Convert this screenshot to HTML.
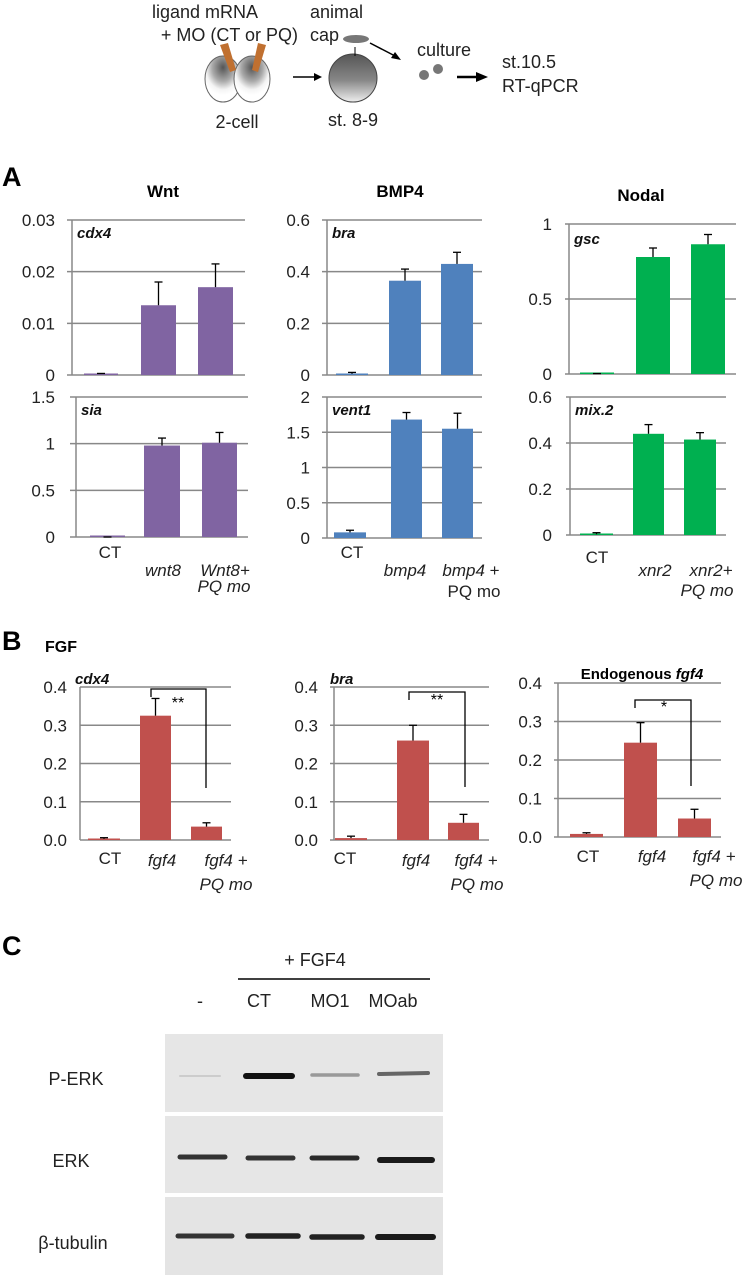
<!DOCTYPE html>
<html><head><meta charset="utf-8"><style>
html,body{margin:0;padding:0;background:#fff;}
svg{display:block;font-family:"Liberation Sans",Arial,sans-serif;}
</style></head><body>
<svg id="s" width="748" height="1280" viewBox="0 0 748 1280" xmlns="http://www.w3.org/2000/svg">
<defs>
<radialGradient id="eg" cx="50%" cy="25%" r="60%"><stop offset="0" stop-color="#555"/><stop offset="0.5" stop-color="#aaa"/><stop offset="0.8" stop-color="#f4f4f4"/><stop offset="1" stop-color="#fff"/></radialGradient>
<linearGradient id="bg" x1="0" y1="0" x2="0" y2="1"><stop offset="0" stop-color="#555"/><stop offset="0.55" stop-color="#888"/><stop offset="1" stop-color="#eee"/></linearGradient>
</defs>
<g font-size="18" fill="#222">
<text x="258" y="18" text-anchor="end">ligand mRNA</text>
<text x="298" y="41" text-anchor="end">+ MO (CT or PQ)</text>
<text x="310" y="18">animal</text>
<text x="310" y="41">cap</text>
<text x="417" y="56">culture</text>
<text x="502" y="68">st.10.5</text>
<text x="502" y="92">RT-qPCR</text>
<text x="237" y="128" text-anchor="middle">2-cell</text>
<text x="353" y="126" text-anchor="middle">st. 8-9</text>
</g>
<ellipse cx="223" cy="79" rx="18" ry="23" fill="url(#eg)" stroke="#666"/>
<ellipse cx="252" cy="79" rx="18" ry="23" fill="url(#eg)" stroke="#666"/>
<polygon points="220,45 228,43 236,70 230,72" fill="#c07030"/>
<polygon points="258,43 266,45 258,72 252,70" fill="#c07030"/>
<circle cx="353" cy="78" r="24" fill="url(#bg)" stroke="#444"/>
<ellipse cx="356" cy="39" rx="13" ry="4" fill="#777"/>
<line x1="355" y1="56" x2="355" y2="47" stroke="#000"/>
<line x1="293" y1="77" x2="318" y2="77" stroke="#000" stroke-width="1.5"/><polygon points="322,77 314,73 314,81"/>
<line x1="370" y1="43" x2="397" y2="57" stroke="#000" stroke-width="1.5"/><polygon points="401,60 391,58 395,52"/>
<circle cx="424" cy="75" r="5" fill="#777"/><circle cx="438" cy="69" r="5" fill="#777"/>
<line x1="457" y1="77" x2="480" y2="77" stroke="#000" stroke-width="2.5"/><polygon points="488,77 476,72 476,82"/>
<g font-weight="bold" font-size="27"><text x="2" y="186">A</text><text x="2" y="650">B</text><text x="2" y="955">C</text></g>
<g font-weight="bold" font-size="17" text-anchor="middle"><text x="163" y="197">Wnt</text><text x="400" y="197">BMP4</text><text x="641" y="201">Nodal</text></g>
<text x="45" y="652" font-weight="bold" font-size="16">FGF</text>
<g id="charts"></g>
<g font-size="17" fill="#222" text-anchor="middle">
<text x="110" y="558">CT</text><text x="163" y="576" font-style="italic">wnt8</text><text x="225" y="576" font-style="italic">Wnt8+</text><text x="224" y="592" font-style="italic">PQ mo</text>
<text x="352" y="558">CT</text><text x="405" y="576" font-style="italic">bmp4</text><text x="471" y="576"><tspan font-style="italic">bmp4</tspan> +</text><text x="474" y="597">PQ mo</text>
<text x="597" y="563">CT</text><text x="655" y="576" font-style="italic">xnr2</text><text x="711" y="576" font-style="italic">xnr2+</text><text x="707" y="596" font-style="italic">PQ mo</text>
<text x="110" y="864">CT</text><text x="162" y="866" font-style="italic">fgf4</text><text x="226" y="866" font-style="italic">fgf4 +</text><text x="226" y="890" font-style="italic">PQ mo</text>
<text x="345" y="864">CT</text><text x="416" y="866" font-style="italic">fgf4</text><text x="476" y="866" font-style="italic">fgf4 +</text><text x="477" y="890" font-style="italic">PQ mo</text>
<text x="588" y="862">CT</text><text x="652" y="862" font-style="italic">fgf4</text><text x="714" y="862" font-style="italic">fgf4 +</text><text x="716" y="886" font-style="italic">PQ mo</text>
</g>
<text x="642" y="679" text-anchor="middle" font-weight="bold" font-size="15">Endogenous <tspan font-style="italic">fgf4</tspan></text>
<g stroke="#000" stroke-width="1.3" fill="none">
<polyline points="151,697 151,689 206,689 206,788"/>
<polyline points="409,700 409,692 465,692 465,787"/>
<polyline points="635,708 635,700 691,700 691,786"/>
</g>
<g font-size="16" text-anchor="middle"><text x="178" y="708">**</text><text x="437" y="705">**</text><text x="664" y="712">*</text></g>
<g font-size="18" fill="#222" text-anchor="middle">
<text x="315" y="966">+ FGF4</text>
<text x="200" y="1007">-</text><text x="259" y="1007">CT</text><text x="330" y="1007">MO1</text><text x="393" y="1007">MOab</text>
<text x="76" y="1085">P-ERK</text><text x="71" y="1167">ERK</text><text x="73" y="1249">β-tubulin</text>
</g>
<line x1="238" y1="979" x2="430" y2="979" stroke="#000" stroke-width="1.5"/>
<rect x="165" y="1034" width="278" height="78" fill="#e6e6e6"/>
<rect x="165" y="1116" width="278" height="77" fill="#e6e6e6"/>
<rect x="165" y="1197" width="278" height="78" fill="#e4e4e4"/>
<g stroke-linecap="round">
<line x1="180" y1="1076" x2="220" y2="1076" stroke="#ccc" stroke-width="2"/>
<line x1="246" y1="1076" x2="292" y2="1076" stroke="#111" stroke-width="6"/>
<line x1="312" y1="1075" x2="358" y2="1075" stroke="#999" stroke-width="3.5"/>
<line x1="379" y1="1074" x2="428" y2="1073" stroke="#666" stroke-width="4"/>
<line x1="180" y1="1157" x2="225" y2="1157" stroke="#333" stroke-width="5"/>
<line x1="248" y1="1158" x2="293" y2="1158" stroke="#333" stroke-width="5"/>
<line x1="312" y1="1158" x2="357" y2="1158" stroke="#2a2a2a" stroke-width="5"/>
<line x1="380" y1="1160" x2="432" y2="1160" stroke="#1a1a1a" stroke-width="6"/>
<line x1="178" y1="1236" x2="232" y2="1236" stroke="#333" stroke-width="5"/>
<line x1="248" y1="1236" x2="298" y2="1236" stroke="#222" stroke-width="5.5"/>
<line x1="312" y1="1237" x2="362" y2="1237" stroke="#222" stroke-width="5.5"/>
<line x1="378" y1="1237" x2="433" y2="1237" stroke="#1a1a1a" stroke-width="6"/>
</g>
</svg>
<script>
var NS="http://www.w3.org/2000/svg",G=document.getElementById("charts");
function el(t,a,txt){var e=document.createElementNS(NS,t);for(var k in a)e.setAttribute(k,a[k]);if(txt!=null)e.textContent=txt;G.appendChild(e);return e;}
function chart(o){
 var h=o.y0-o.yt;
 o.ticks.forEach(function(t,i){var y=o.y0-h*t/o.max;
  el("line",{x1:o.gx,y1:y,x2:o.x1,y2:y,stroke:"#888","stroke-width":1.5});
  el("text",{x:o.tx,y:y+6,"text-anchor":"end","font-size":17,fill:"#222"},o.tl[i]);});
 el("line",{x1:o.ax,y1:o.yt,x2:o.ax,y2:o.y0,stroke:"#888","stroke-width":1.5});
 o.bars.forEach(function(b){var y=o.y0-h*b[2]/o.max,ye=o.y0-h*b[3]/o.max,cx=(b[0]+b[1])/2;
  el("rect",{x:b[0],y:Math.min(y,o.y0-1.5),width:b[1]-b[0],height:Math.max(o.y0-y,1.5),fill:o.c});
  el("line",{x1:cx,y1:y,x2:cx,y2:ye,stroke:"#000","stroke-width":1.3});
  el("line",{x1:cx-4,y1:ye,x2:cx+4,y2:ye,stroke:"#000","stroke-width":1.3});});
 if(o.g)el("text",{x:o.gxl||o.ax+5,y:o.gy||o.yt+18,"font-size":15,"font-weight":"bold","font-style":"italic",fill:"#111"},o.g);
}
var P="#8064a2",B="#4f81bd",Gr="#00b050",R="#c0504d";
chart({gx:67,ax:72,x1:245,yt:220,y0:375,max:.03,ticks:[0,.01,.02,.03],tl:["0","0.01","0.02","0.03"],tx:55,c:P,g:"cdx4",bars:[[84,118,.0002,.0003],[141,176,.0135,.018],[198,233,.017,.0215]]});
chart({gx:70,ax:76,x1:248,yt:397,y0:537,max:1.5,ticks:[0,.5,1,1.5],tl:["0","0.5","1","1.5"],tx:55,c:P,g:"sia",bars:[[90,125,0,0],[144,180,.98,1.06],[202,237,1.01,1.12]]});
chart({gx:322,ax:327,x1:482,yt:220,y0:375,max:.6,ticks:[0,.2,.4,.6],tl:["0","0.2","0.4","0.6"],tx:310,c:B,g:"bra",bars:[[336,368,.005,.01],[389,421,.365,.41],[441,473,.43,.475]]});
chart({gx:322,ax:327,x1:482,yt:397,y0:538,max:2,ticks:[0,.5,1,1.5,2],tl:["0","0.5","1","1.5","2"],tx:310,c:B,g:"vent1",bars:[[334,366,.08,.11],[391,422,1.68,1.78],[442,473,1.55,1.77]]});
chart({gx:565,ax:569,x1:736,yt:224,y0:374,max:1,ticks:[0,.5,1],tl:["0","0.5","1"],tx:552,c:Gr,g:"gsc",gy:244,bars:[[580,614,.002,.003],[636,670,.78,.84],[691,725,.865,.93]]});
chart({gx:566,ax:570,x1:726,yt:397,y0:535,max:.6,ticks:[0,.2,.4,.6],tl:["0","0.2","0.4","0.6"],tx:552,c:Gr,g:"mix.2",bars:[[580,613,.003,.01],[633,664,.44,.48],[684,716,.415,.445]]});
chart({gx:80,ax:80,x1:231,yt:687,y0:840,max:.4,ticks:[0,.1,.2,.3,.4],tl:["0.0","0.1","0.2","0.3","0.4"],tx:67,c:R,g:"cdx4",gxl:75,gy:684,bars:[[88,120,.003,.006],[140,171,.325,.37],[191,222,.035,.045]]});
chart({gx:330,ax:334,x1:489,yt:687,y0:840,max:.4,ticks:[0,.1,.2,.3,.4],tl:["0.0","0.1","0.2","0.3","0.4"],tx:318,c:R,g:"bra",gxl:330,gy:684,bars:[[335,367,.005,.01],[397,429,.26,.30],[448,479,.045,.067]]});
chart({gx:554,ax:558,x1:721,yt:683,y0:837,max:.4,ticks:[0,.1,.2,.3,.4],tl:["0.0","0.1","0.2","0.3","0.4"],tx:542,c:R,bars:[[570,603,.008,.011],[624,657,.245,.297],[678,711,.048,.072]]});
</script>
</body></html>
